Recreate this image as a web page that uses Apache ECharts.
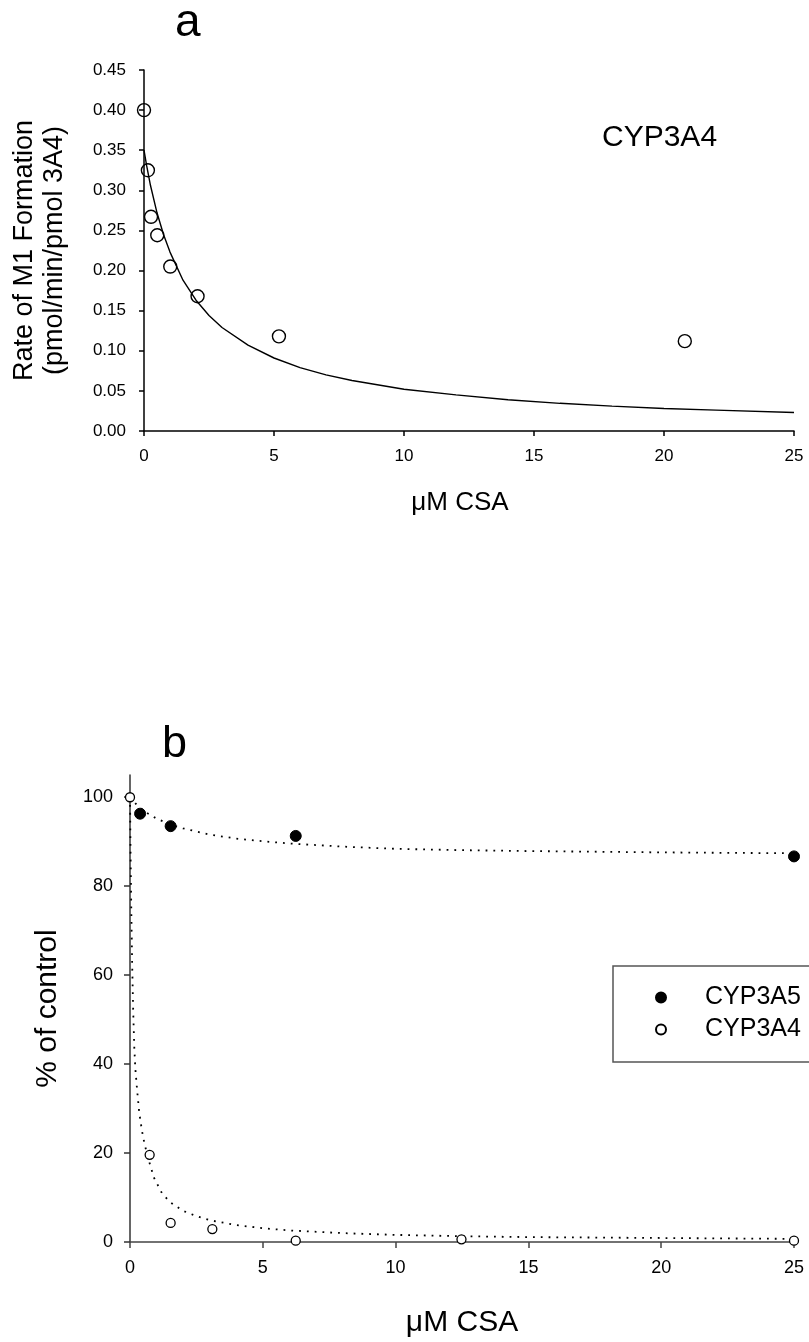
<!DOCTYPE html>
<html>
<head>
<meta charset="utf-8">
<script src="https://cdn.jsdelivr.net/npm/echarts@6/dist/echarts.min.js"></script>
<style>
html, body { margin: 0; padding: 0; background: #fff; }
#chart { width: 809px; height: 1342px; }
</style>
</head>
<body>
<div id="chart"></div>
<script>
// panel a - rate of M1 formation (CYP3A4) vs CSA
var aCsa = [0, 0.15, 0.27, 0.51, 1.01, 2.06, 5.19, 20.8];
var aRate = [0.400, 0.325, 0.267, 0.244, 0.205, 0.168, 0.118, 0.112];
// fitted curve
var aFitCsa = [0, 0.1, 0.25, 0.5, 0.75, 1, 1.5, 2, 2.5, 3, 4, 5, 6, 7, 8, 10, 12, 14, 16, 18, 20, 22, 25];
var aFitRate = [0.350, 0.331, 0.306, 0.272, 0.245, 0.223, 0.188, 0.163, 0.144, 0.129, 0.107, 0.091, 0.079, 0.070, 0.063, 0.052, 0.045, 0.039, 0.0345, 0.031, 0.028, 0.026, 0.023];

// panel b - % of control
var b5Csa = [0.38, 1.53, 6.24, 25];
var b5Pct = [96.3, 93.5, 91.3, 86.7];
var b4Csa = [0, 0.74, 1.53, 3.1, 6.24, 12.48, 25];
var b4Pct = [100, 19.6, 4.3, 2.9, 0.3, 0.6, 0.3];
var b5FitCsa = [0, 0.3, 0.6, 1, 1.5, 2, 3, 4, 5, 6, 8, 10, 12.5, 15, 20, 25];
var b5FitPct = [100, 98, 96.6, 95.2, 93.9, 93, 91.6, 90.7, 90.1, 89.6, 88.9, 88.4, 88.1, 87.9, 87.6, 87.4];
var b4FitCsa = [0, 0.02, 0.05, 0.08, 0.12, 0.16, 0.2, 0.27, 0.35, 0.45, 0.55, 0.7, 0.9, 1.2, 1.5, 2, 2.5, 3, 4, 5, 6, 8, 10, 12.5, 15, 20, 25];
var b4FitPct = [100, 88, 74, 63, 52, 44, 39, 34, 29, 25, 22, 18.5, 14.5, 11, 9, 7, 5.8, 4.9, 3.8, 3.1, 2.6, 2.0, 1.6, 1.3, 1.1, 0.9, 0.7];
var bTicksY = [0, 20, 40, 60, 80, 100];

function zip(xs, ys) {
  return xs.map(function (x, i) { return [x, ys[i]]; });
}

var font = '"Liberation Sans", Arial, Helvetica, sans-serif';
var myChart = echarts.init(document.getElementById('chart'));

var option = {
  animation: false,
  backgroundColor: '#fff',
  textStyle: { fontFamily: font, color: '#000' },
  title: [
    { text: 'a', left: 175, top: 0, padding: 0, textStyle: { fontSize: 46, fontWeight: 'normal', color: '#000', fontFamily: font } },
    { text: 'b', left: 162, top: 722, padding: 0, textStyle: { fontSize: 45, fontWeight: 'normal', color: '#000', fontFamily: font } },
    { text: 'CYP3A4', left: 602, top: 123, padding: 0, textStyle: { fontSize: 30, fontWeight: 'normal', color: '#000', fontFamily: font } }
  ],
  grid: [
    { left: 144, top: 70, width: 650, height: 361, outerBoundsMode: 'none' },
    { left: 130, top: 775, width: 664, height: 467, outerBoundsMode: 'none' }
  ],
  legend: {
    orient: 'vertical', left: 613, top: 966,
    padding: [19, 30, 20, 42],
    itemWidth: 10, itemHeight: 10, itemGap: 7,
    borderColor: '#555', borderWidth: 1.5,
    selectedMode: false,
    textStyle: { fontSize: 25, color: '#000', fontFamily: font, lineHeight: 25, padding: [0, 0, 0, 34] },
    data: ['CYP3A5', 'CYP3A4']
  },
  xAxis: [
    {
      gridIndex: 0, type: 'value', min: 0, max: 25, interval: 5,
      name: 'μM CSA', nameLocation: 'middle', nameGap: 59,
      nameTextStyle: { fontSize: 26, color: '#000', fontFamily: font, padding: [0, 18, 0, 0] },
      axisLine: { show: true, onZero: false, lineStyle: { color: '#000', width: 1.5 } },
      axisTick: { show: true, length: 5, lineStyle: { color: '#000', width: 1.5 } },
      axisLabel: { fontSize: 17, margin: 17, color: '#000', fontFamily: font },
      splitLine: { show: false }
    },
    {
      gridIndex: 1, type: 'value', min: 0, max: 25, interval: 5,
      name: 'μM CSA', nameLocation: 'middle', nameGap: 66,
      nameTextStyle: { fontSize: 30, color: '#000', fontFamily: font },
      axisLine: { show: true, onZero: false, lineStyle: { color: '#444', width: 1.5 } },
      axisTick: { show: true, length: 6, lineStyle: { color: '#444', width: 1.5 } },
      axisLabel: { fontSize: 18, margin: 17, color: '#000', fontFamily: font },
      splitLine: { show: false }
    }
  ],
  yAxis: [
    {
      gridIndex: 0, type: 'value', min: 0, max: 0.45, interval: 0.05,
      name: 'Rate of M1 Formation\n(pmol/min/pmol 3A4)', nameLocation: 'middle', nameGap: 74,
      nameTextStyle: { fontSize: 27, lineHeight: 30, color: '#000', fontFamily: font },
      axisLine: { show: true, onZero: false, lineStyle: { color: '#000', width: 1.5 } },
      axisTick: { show: true, length: 5, lineStyle: { color: '#000', width: 1.5 } },
      axisLabel: { fontSize: 17, margin: 18, color: '#000', fontFamily: font,
        formatter: function (v) { return v.toFixed(2); } },
      splitLine: { show: false }
    },
    {
      gridIndex: 1, type: 'value', min: 0, max: 105,
      name: '% of control', nameLocation: 'middle', nameGap: 67,
      nameTextStyle: { fontSize: 30, color: '#000', fontFamily: font },
      axisLine: { show: true, onZero: false, lineStyle: { color: '#333', width: 1.5 } },
      axisTick: { show: true, length: 6, customValues: bTicksY, lineStyle: { color: '#333', width: 1.5 } },
      axisLabel: { fontSize: 18, margin: 17, color: '#000', fontFamily: font, customValues: bTicksY },
      splitLine: { show: false }
    }
  ],
  series: [
    {
      name: 'M1 fit', type: 'line', xAxisIndex: 0, yAxisIndex: 0,
      data: zip(aFitCsa, aFitRate), showSymbol: false, symbol: 'none', smooth: false,
      lineStyle: { color: '#000', width: 1.4 }, z: 2
    },
    {
      name: 'M1 rate', type: 'scatter', xAxisIndex: 0, yAxisIndex: 0,
      data: zip(aCsa, aRate), symbol: 'circle', symbolSize: 13,
      itemStyle: { color: 'rgba(0,0,0,0)', borderColor: '#000', borderWidth: 1.4, opacity: 1 }, z: 3
    },
    {
      name: 'CYP3A5 fit', type: 'line', xAxisIndex: 1, yAxisIndex: 1,
      data: zip(b5FitCsa, b5FitPct), showSymbol: false, symbol: 'none', smooth: false,
      lineStyle: { color: '#000', width: 1.8, type: [1.8, 6] }, z: 2
    },
    {
      name: 'CYP3A4 fit', type: 'line', xAxisIndex: 1, yAxisIndex: 1,
      data: zip(b4FitCsa, b4FitPct), showSymbol: false, symbol: 'none', smooth: false,
      lineStyle: { color: '#000', width: 1.8, type: [1.8, 6] }, z: 2
    },
    {
      name: 'CYP3A5', type: 'scatter', xAxisIndex: 1, yAxisIndex: 1,
      data: zip(b5Csa, b5Pct), symbol: 'circle', symbolSize: 11,
      itemStyle: { color: '#000', borderColor: '#000', borderWidth: 1, opacity: 1 }, z: 3
    },
    {
      name: 'CYP3A4', type: 'scatter', xAxisIndex: 1, yAxisIndex: 1,
      data: zip(b4Csa, b4Pct), symbol: 'circle', symbolSize: 9,
      itemStyle: { color: '#fff', borderColor: '#000', borderWidth: 1.3, opacity: 1 }, z: 4
    }
  ]
};

myChart.setOption(option);
</script>
</body>
</html>
